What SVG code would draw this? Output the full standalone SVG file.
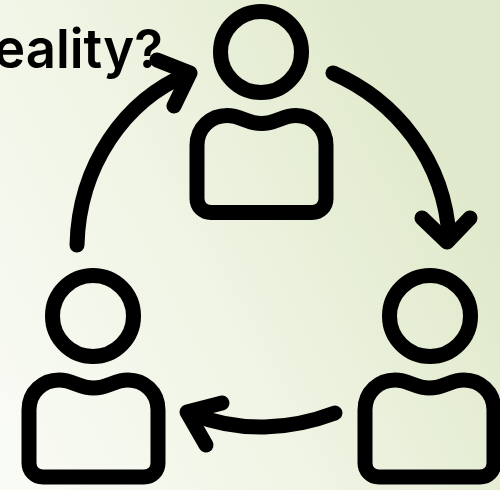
<svg xmlns="http://www.w3.org/2000/svg" width="500" height="490" viewBox="0 0 500 490">
<style>
.l{fill:none;stroke:#000;stroke-width:15;stroke-linecap:round;stroke-linejoin:round}
.t{font-family:"Inter","Liberation Sans",sans-serif;font-weight:600;font-size:54px;fill:#000}
</style>
<defs>
<linearGradient id="bg" gradientUnits="userSpaceOnUse" x1="0" y1="440" x2="470" y2="190">
<stop offset="0" stop-color="#f9fbf5"/><stop offset="0.5" stop-color="#eff4e3"/><stop offset="1" stop-color="#e0e9cb"/>
</linearGradient>
<filter id="soft" x="-5%" y="-5%" width="110%" height="110%"><feGaussianBlur stdDeviation="0.6"/></filter>
<path id="body" d="M0 30C0 12 14 0 30 0C44 0 50 8 64.500 8C79 8 85 0 99 0C115 0 129 12 129 30V83C129 91 123 97 115 97H14C6 97 0 91 0 83Z"/>
</defs>
<rect width="500" height="490" fill="url(#bg)"/>
<text class="t" x="-6" y="68" textLength="169" lengthAdjust="spacingAndGlyphs">eality?</text>
<g filter="url(#soft)">
<g id="person-top"><circle class="l" cx="261" cy="52" r="40.500"/><use class="l" href="#body" x="197" y="115.500"/></g>
<g id="person-left"><circle class="l" cx="93" cy="316" r="40.500"/><use class="l" href="#body" x="29" y="380"/></g>
<g id="person-right"><circle class="l" cx="430" cy="316" r="40.500"/><use class="l" href="#body" x="365" y="380"/></g>
<g id="connectors">
<path class="l" d="M77 245C79 165 125 100 188 74"/><path class="l" d="M157 60L190 73L174 106"/>
<path class="l" d="M333 73C395 100 445 160 449 238"/><path class="l" d="M422 218L447 242L470 218"/>
<path class="l" d="M335 413C290 430 240 433 192 414"/><path class="l" d="M222 403L187 412L206 445"/>
</g>
</g>
</svg>
